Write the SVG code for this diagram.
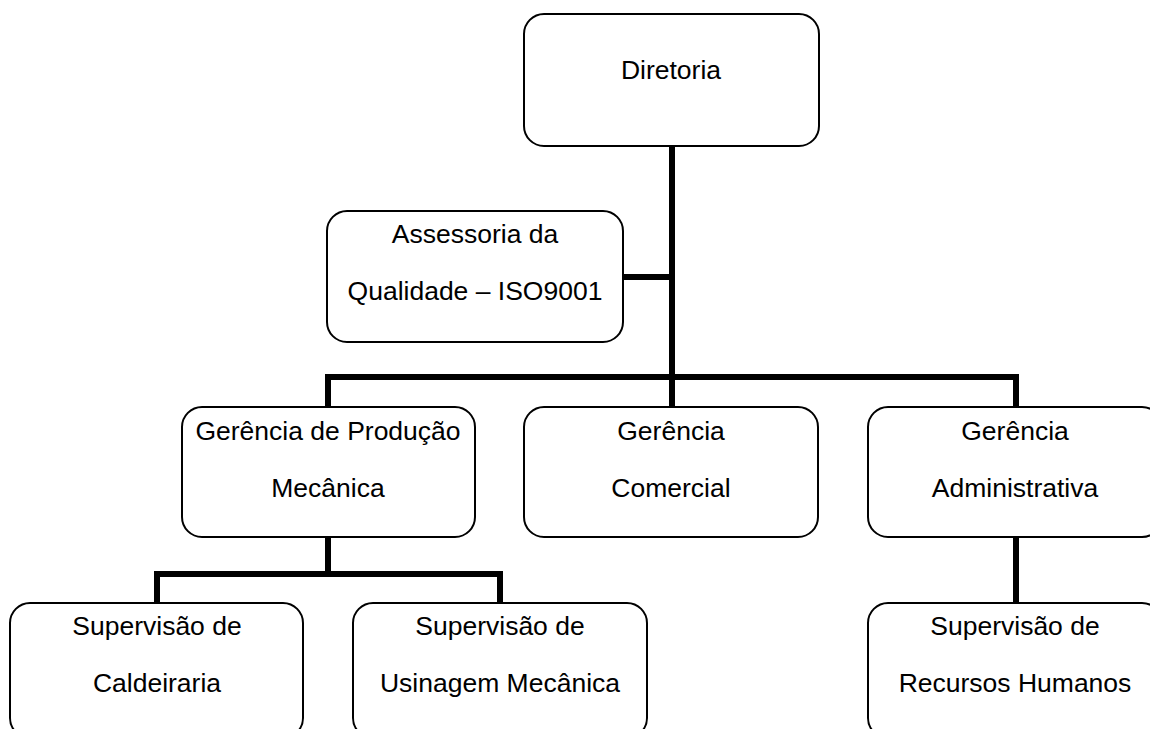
<svg xmlns="http://www.w3.org/2000/svg" width="1150" height="729" viewBox="0 0 1150 729">
  <style>
    .box { fill: #ffffff; stroke: #000000; stroke-width: 2; }
    .lbl { font-family: "Liberation Sans", Arial, sans-serif; font-size: 26.5px; fill: #000000; text-anchor: middle; }
    .wire { fill: none; stroke: #000000; stroke-width: 6; stroke-linecap: square; stroke-linejoin: miter; }
  </style>
  <rect width="1150" height="729" fill="#ffffff"/>

  <!-- organisational links -->
  <g id="connectors">
    <path class="wire" d="M672 146 V377"/>
    <path class="wire" d="M623 277 H672"/>
    <path class="wire" d="M328 407 V377 H1016 V407"/>
    <path class="wire" d="M672 377 V407"/>
    <path class="wire" d="M328 537 V574"/>
    <path class="wire" d="M157 603 V574 H500 V603"/>
    <path class="wire" d="M1016 537 V603"/>
  </g>

  <g id="diretoria">
    <rect class="box" x="524" y="14" width="295" height="132" rx="20"/>
    <text class="lbl" x="671" y="79">Diretoria</text>
  </g>

  <g id="assessoria-qualidade">
    <rect class="box" x="327" y="211" width="296" height="131" rx="20"/>
    <text class="lbl" x="475" y="243">Assessoria da</text>
    <text class="lbl" x="475" y="300">Qualidade – ISO9001</text>
  </g>

  <g id="gerencia-producao">
    <rect class="box" x="182" y="407" width="293" height="130" rx="20"/>
    <text class="lbl" x="328" y="440">Gerência de Produção</text>
    <text class="lbl" x="328" y="497">Mecânica</text>
  </g>

  <g id="gerencia-comercial">
    <rect class="box" x="524" y="407" width="294" height="130" rx="20"/>
    <text class="lbl" x="671" y="440">Gerência</text>
    <text class="lbl" x="671" y="497">Comercial</text>
  </g>

  <g id="gerencia-administrativa">
    <rect class="box" x="868" y="407" width="294" height="130" rx="20"/>
    <text class="lbl" x="1015" y="440">Gerência</text>
    <text class="lbl" x="1015" y="497">Administrativa</text>
  </g>

  <g id="supervisao-caldeiraria">
    <rect class="box" x="10" y="603" width="293" height="135" rx="20"/>
    <text class="lbl" x="157" y="635">Supervisão de</text>
    <text class="lbl" x="157" y="692">Caldeiraria</text>
  </g>

  <g id="supervisao-usinagem">
    <rect class="box" x="353" y="603" width="294" height="135" rx="20"/>
    <text class="lbl" x="500" y="635">Supervisão de</text>
    <text class="lbl" x="500" y="692">Usinagem Mecânica</text>
  </g>

  <g id="supervisao-rh">
    <rect class="box" x="868" y="603" width="294" height="135" rx="20"/>
    <text class="lbl" x="1015" y="635">Supervisão de</text>
    <text class="lbl" x="1015" y="692">Recursos Humanos</text>
  </g>
</svg>
